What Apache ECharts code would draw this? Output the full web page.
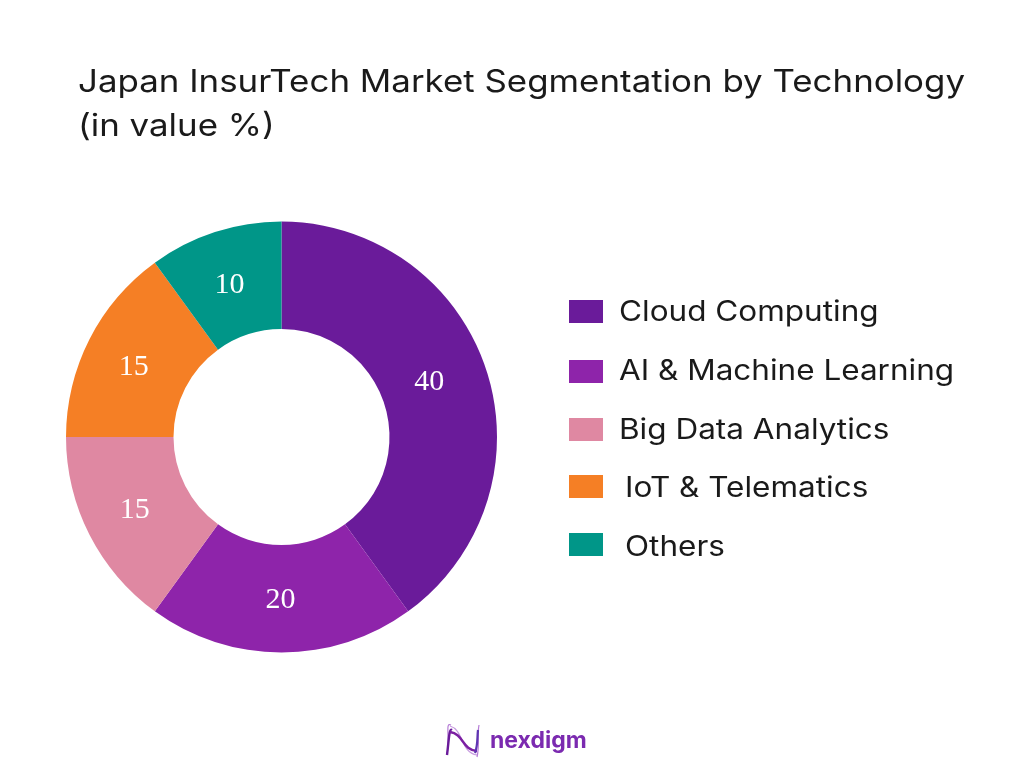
<!DOCTYPE html>
<html>
<head>
<meta charset="utf-8">
<style>html,body{margin:0;padding:0;background:#fff}#chart{width:1024px;height:768px}</style>
<script src="https://cdn.jsdelivr.net/npm/echarts@6/dist/echarts.min.js"></script>
</head>
<body>
<div id="chart"></div>
<script>
var categories = ['Cloud Computing', 'AI & Machine Learning', 'Big Data Analytics', 'IoT & Telematics', 'Others'];
var shares = [40, 20, 15, 15, 10];
var colors = ['#6A1B9A', '#8E24AA', '#DF88A2', '#F57F25', '#009688'];
var titleLines = ['Japan InsurTech Market Segmentation by Technology', '(in value %)'];
var titleMiddle = [83, 127];
var legendMiddle = [313, 372, 431, 489, 548];
var swatchTop = [300, 360, 418, 475, 533];
var legendIndent = [0, 0, 0, 6, 6];
var labelOffset = [[-9, -4], [-1, -2], [0, -2], [-1, 5], [-1, 5]];

var chart = echarts.init(document.getElementById('chart'));
var graphics = [];

titleLines.forEach(function(line, i){
	graphics.push({type:'text',x:78,y:titleMiddle[i],scaleX:1.125,style:{text:line,font:'31px Inter',fill:'#1a1a1a',textVerticalAlign:'middle'}});
});

categories.forEach(function(name, i){
	graphics.push({type:'rect',shape:{x:569,y:swatchTop[i],width:34,height:23},style:{fill:colors[i]}});
	graphics.push({type:'text',x:619+legendIndent[i],y:legendMiddle[i],scaleX:1.125,style:{text:name,font:'28px Inter',fill:'#1a1a1a',textVerticalAlign:'middle'}});
});

// logo
var swooshes = [
	{x1:447,y1:755,cpx1:450,cpy1:735,cpx2:445,cpy2:722,x2:451,y2:725,stroke:'#B57BD6',w:1.2},
	{x1:447,y1:755,cpx1:449,cpy1:740,cpx2:449,cpy2:728,x2:452,y2:730,stroke:'#6A1B9A',w:2.4},
	{x1:450,y1:726,cpx1:464,cpy1:730,cpx2:460,cpy2:752,x2:477,y2:755,stroke:'#C79BE0',w:1.2},
	{x1:450,y1:732,cpx1:464,cpy1:734,cpx2:462,cpy2:750,x2:477,y2:751,stroke:'#7B1FA2',w:2.4},
	{x1:477,y1:757,cpx1:480,cpy1:745,cpx2:477,cpy2:735,x2:479,y2:725,stroke:'#B57BD6',w:1.2},
	{x1:475,y1:753,cpx1:478,cpy1:745,cpx2:477,cpy2:738,x2:478,y2:730,stroke:'#5E35B1',w:2.2}
];
swooshes.forEach(function(s){
	graphics.push({type:'bezierCurve',shape:{x1:s.x1,y1:s.y1,cpx1:s.cpx1,cpy1:s.cpy1,cpx2:s.cpx2,cpy2:s.cpy2,x2:s.x2,y2:s.y2},style:{stroke:s.stroke,lineWidth:s.w,fill:null}});
});
graphics.push({type:'text',x:490,y:741,style:{text:'nexdigm',font:'bold 23px Inter',textVerticalAlign:'middle',fill:'#7B2AB0'}});

chart.setOption({
	animation:false,
	backgroundColor:'#fff',
	series:[{
		type:'pie',
		center:[281.5,437],
		radius:[108,215.5],
		startAngle:90,
		clockwise:true,
		data:categories.map(function(n,i){
			return {name:n,value:shares[i],itemStyle:{color:colors[i]},label:{offset:labelOffset[i]}};
		}),
		label:{show:true,position:'inside',formatter:'{c}',fontFamily:'Liberation Serif',fontSize:30,color:'#fff'},
		labelLine:{show:false}
	}],
	graphic:graphics
});
</script>
</body>
</html>
